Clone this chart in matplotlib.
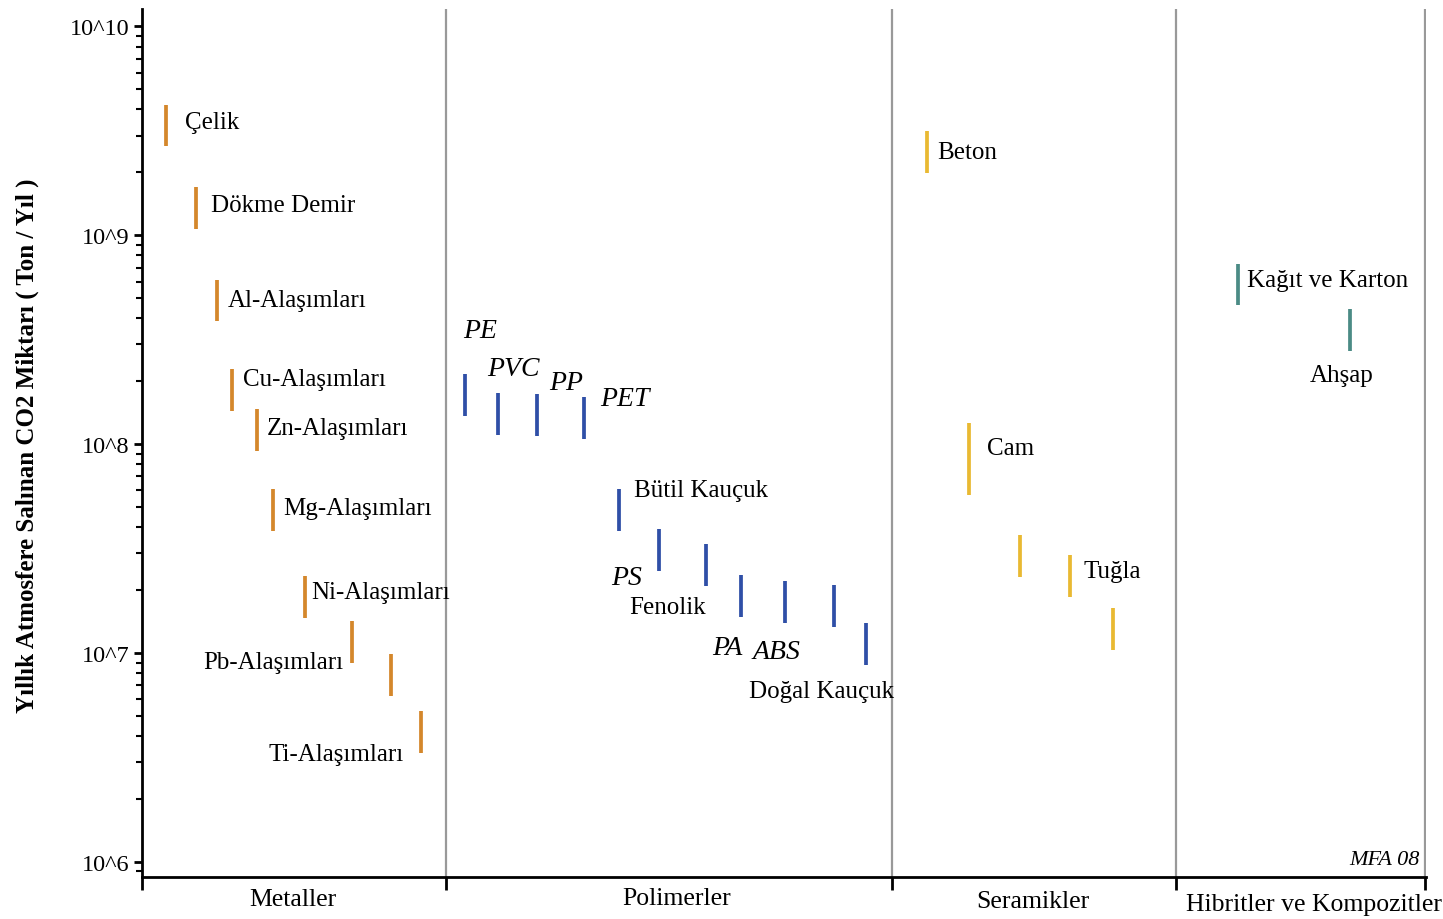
import numpy as np
import matplotlib
matplotlib.use("Agg")
import matplotlib.pyplot as plt
from matplotlib.ticker import LogLocator, NullFormatter, FixedLocator

plt.rcParams['font.family'] = ['Liberation Serif', 'DejaVu Serif']

# --- data: yearly CO2 emission ranges (ton / year), low and high end of each bar ---
metal_names = ["Çelik", "Dökme Demir", "Al-Alaşımları", "Cu-Alaşımları", "Zn-Alaşımları",
               "Mg-Alaşımları", "Ni-Alaşımları", "Pb-Alaşımları", "", "Ti-Alaşımları"]
metal_lo = [2.67e9, 1.07e9, 3.88e8, 1.44e8, 9.27e7, 3.84e7, 1.47e7, 8.95e6, 6.22e6, 3.33e6]
metal_hi = [4.19e9, 1.70e9, 6.10e8, 2.29e8, 1.47e8, 6.10e7, 2.33e7, 1.42e7, 9.89e6, 5.27e6]

polymer_names = ["PE", "PVC", "PP", "PET", "Bütil Kauçuk", "PS", "Fenolik", "PA", "ABS", "",
                 "Doğal Kauçuk"]
polymer_lo = [1.36e8, 1.10e8, 1.09e8, 1.06e8, 3.84e7, 2.47e7, 2.09e7, 1.49e7, 1.39e7, 1.33e7, 8.77e6]
polymer_hi = [2.16e8, 1.75e8, 1.73e8, 1.68e8, 6.10e7, 3.92e7, 3.33e7, 2.36e7, 2.21e7, 2.11e7, 1.39e7]

ceramic_names = ["Beton", "Cam", "", "Tuğla", ""]
ceramic_lo = [1.98e9, 5.70e7, 2.31e7, 1.85e7, 1.03e7]
ceramic_hi = [3.15e9, 1.26e8, 3.67e7, 2.94e7, 1.64e7]

hybrid_names = ["Kağıt ve Karton", "Ahşap"]
hybrid_lo = [4.62e8, 2.79e8]
hybrid_hi = [7.26e8, 4.43e8]

categories = ["Metaller", "Polimerler", "Seramikler", "Hibritler ve Kompozitler"]
ytick_labels = ["10^6", "10^7", "10^8", "10^9", "10^10"]

# --- layout (horizontal positions on an arbitrary 0..1284 axis) ---
metal_x = [24, 54, 75, 90, 115, 131, 163, 210, 249, 279]
polymer_x = [323, 356, 395, 442, 477, 517, 564, 599, 643, 692, 724]
ceramic_x = [785, 827, 878, 928, 971]
hybrid_x = [1096, 1208]
separators = [0, 304, 750, 1034, 1283]
cat_centers = [151, 535, 891, 1172]
cat_dy = [-0.025, -0.024, -0.028, -0.031]

# label anchor (x, y, alignment) for each bar label
metal_lab = [(43, 3.5e9, 'left'), (69, 1.39e9, 'left'), (86, 4.9e8, 'left'),
             (101, 2.05e8, 'left'), (125, 1.19e8, 'left'), (141, 4.95e7, 'left'),
             (169, 1.96e7, 'left'), (201, 9.05e6, 'right'), None, (262, 3.29e6, 'right')]
polymer_lab = [(321, 3.5e8, 'left'), (345, 2.31e8, 'left'), (407, 1.98e8, 'left'),
               (458, 1.66e8, 'left'), (492, 6.03e7, 'left'), (469, 2.31e7, 'left'),
               (487, 1.66e7, 'left'), (570, 1.06e7, 'left'), (611, 1.02e7, 'left'), None,
               (607, 6.58e6, 'left')]
polymer_italic = [True, True, True, True, False, True, False, True, True, False, False]
ceramic_lab = [(795, 2.49e9, 'left'), (845, 9.57e7, 'left'), None, (942, 2.47e7, 'left'), None]
hybrid_lab = [(1105, 6.1e8, 'left'), (1168, 2.14e8, 'left')]

colors = {"metal": "#d4872b", "polymer": "#2f4fa7", "ceramic": "#e9b932", "hybrid": "#4b8b85"}

fig = plt.figure(figsize=(14.43, 9.2), dpi=100)
ax = fig.add_axes([0.0984, 0.0457, 0.8898, 0.943])

ax.set_yscale('log')
ax.set_xlim(0, 1284)
ax.set_ylim(10 ** 5.928, 10 ** 10.081)

for sx in separators[1:]:
    ax.axvline(sx, color='#999999', lw=1.6, zorder=1)

groups = [
    (metal_x, metal_lo, metal_hi, metal_names, metal_lab, [False] * 10, colors["metal"]),
    (polymer_x, polymer_lo, polymer_hi, polymer_names, polymer_lab, polymer_italic, colors["polymer"]),
    (ceramic_x, ceramic_lo, ceramic_hi, ceramic_names, ceramic_lab, [False] * 5, colors["ceramic"]),
    (hybrid_x, hybrid_lo, hybrid_hi, hybrid_names, hybrid_lab, [False] * 2, colors["hybrid"]),
]
for xs, lo, hi, names, labs, ital, col in groups:
    ax.vlines(xs, lo, hi, color=col, lw=2.7, zorder=3)
    for name, lab, it in zip(names, labs, ital):
        if lab is None:
            continue
        lx, ly, ha = lab
        ax.text(lx, ly, name, ha=ha, va='center', fontsize=20 if it else 18,
                style='italic' if it else 'normal', zorder=4)

ax.text(1278, 10 ** 6.01, "MFA 08", ha='right', va='center', fontsize=16, style='italic')

# axes styling
for s in ['top', 'right']:
    ax.spines[s].set_visible(False)
ax.spines['left'].set_linewidth(2)
ax.spines['bottom'].set_linewidth(2)

ax.yaxis.set_major_locator(FixedLocator([1e6, 1e7, 1e8, 1e9, 1e10]))
ax.set_yticklabels(ytick_labels, fontsize=17.5)
ax.yaxis.set_minor_locator(LogLocator(base=10, subs=np.arange(2, 10)))
ax.yaxis.set_minor_formatter(NullFormatter())
ax.tick_params(axis='y', which='major', length=6, width=2, pad=3)
ax.tick_params(axis='y', which='minor', length=4, width=1.5)

ax.set_xticks(separators)
ax.set_xticklabels([])
ax.tick_params(axis='x', which='major', length=9, width=2, direction='out')

for c, name, dy in zip(cat_centers, categories, cat_dy):
    ax.text(c, dy, name, transform=ax.get_xaxis_transform(), ha='center', va='center',
            fontsize=18.5)

fig.text(0.0187, 0.515, "Yıllık Atmosfere Salınan CO2 Miktarı ( Ton / Yıl )", rotation=90,
         ha='center', va='center', fontsize=18, fontweight='bold')

fig.savefig("out.png", dpi=100)
